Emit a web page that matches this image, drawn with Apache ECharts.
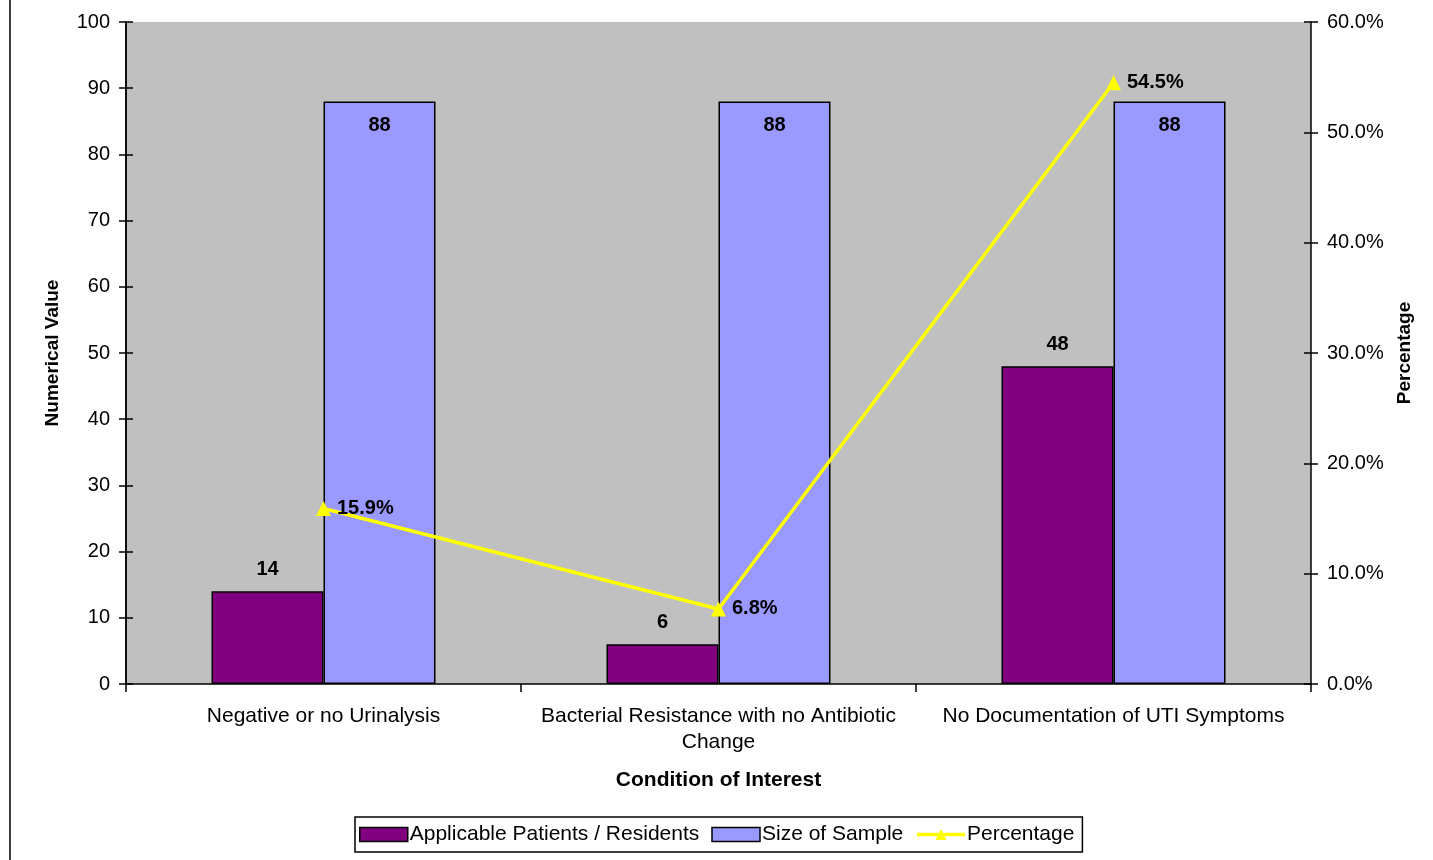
<!DOCTYPE html>
<html>
<head>
<meta charset="utf-8">
<script src="https://cdn.jsdelivr.net/npm/echarts@6/dist/echarts.min.js"></script>
<style>
  html, body { margin: 0; padding: 0; background: #fff; }
  #chart { width: 1433px; height: 860px; }
</style>
</head>
<body>
<div id="chart"></div>
<script>
// Categories and values
const categories = [
  'Negative or no Urinalysis',
  'Bacterial Resistance with no Antibiotic\nChange',
  'No Documentation of UTI Symptoms'
];
const applicable = [14, 6, 48];
const sampleSize = [88, 88, 88];
const percentage = [15.9, 6.8, 54.5];

const FONT = "'Liberation Sans', Arial, Helvetica, sans-serif";

const chart = echarts.init(document.getElementById('chart'));

const baseY = {
  type: 'value', min: 0, max: 100, interval: 10,
  splitLine: { show: false },
  axisLine: { show: true, lineStyle: { color: '#000', width: 1.5 } }
};

chart.setOption({
  animation: false,
  backgroundColor: '#fff',
  textStyle: { fontFamily: FONT },
  grid: {
    left: 126, right: 122, top: 22, bottom: 176,
    show: true, backgroundColor: '#C0C0C0', borderWidth: 0
  },
  legend: {
    left: 355, top: 817,
    padding: [7, 8, 7, 4],
    borderColor: '#000', borderWidth: 1.5,
    itemWidth: 48, itemHeight: 14, itemGap: 12,
    textStyle: { fontFamily: FONT, fontSize: 21, color: '#000', padding: [0, 0, 0, -3] },
    data: [
      { name: 'Applicable Patients / Residents', icon: 'rect', itemStyle: { borderColor: '#000', borderWidth: 1.5 } },
      { name: 'Size of Sample', icon: 'rect', itemStyle: { borderColor: '#000', borderWidth: 1.5 } },
      { name: 'Percentage', lineStyle: { width: 3.5, color: '#FFFF00' } }
    ]
  },
  xAxis: {
    type: 'category',
    data: categories,
    name: 'Condition of Interest',
    nameLocation: 'middle',
    nameGap: 86,
    nameTextStyle: { fontFamily: FONT, fontSize: 21, fontWeight: 'bold', color: '#000' },
    axisLine: { lineStyle: { color: '#000', width: 1.5 } },
    axisTick: { show: true, interval: 0, length: 8, lineStyle: { color: '#000', width: 1.5 } },
    axisLabel: { interval: 0, fontFamily: FONT, fontSize: 21, color: '#000', margin: 19, lineHeight: 26 }
  },
  yAxis: [
    Object.assign({}, baseY, {
      name: 'Numerical Value',
      nameLocation: 'middle',
      nameGap: 64,
      nameRotate: 90,
      nameTextStyle: { fontFamily: FONT, fontSize: 19, fontWeight: 'bold', color: '#000' },
      axisTick: { show: true, length: 7, lineStyle: { color: '#000', width: 1.5 } },
      axisLabel: { fontFamily: FONT, fontSize: 20, color: '#000', margin: 16 }
    }),
    // inner half of the crossing ticks on the left axis
    Object.assign({}, baseY, {
      position: 'left',
      axisTick: { show: true, inside: true, length: 7, lineStyle: { color: '#000', width: 1.5 } },
      axisLabel: { show: false }
    }),
    {
      type: 'value', min: 0, max: 60, interval: 10,
      position: 'right',
      splitLine: { show: false },
      name: 'Percentage',
      nameLocation: 'middle',
      nameGap: 84,
      nameRotate: 90,
      nameTextStyle: { fontFamily: FONT, fontSize: 19, fontWeight: 'bold', color: '#000' },
      axisLine: { show: true, lineStyle: { color: '#000', width: 1.5 } },
      axisTick: { show: true, length: 7, lineStyle: { color: '#000', width: 1.5 } },
      axisLabel: {
        fontFamily: FONT, fontSize: 20, color: '#000', margin: 16,
        formatter: v => v.toFixed(1) + '%'
      }
    },
    // inner half of the crossing ticks on the right axis
    {
      type: 'value', min: 0, max: 60, interval: 10,
      position: 'right',
      splitLine: { show: false },
      axisLine: { show: false },
      axisTick: { show: true, inside: true, length: 7, lineStyle: { color: '#000', width: 1.5 } },
      axisLabel: { show: false }
    }
  ],
  series: [
    {
      name: 'Applicable Patients / Residents',
      type: 'bar',
      yAxisIndex: 0,
      data: applicable,
      barWidth: 112,
      barGap: '0%',
      itemStyle: { color: '#800080', borderColor: '#000', borderWidth: 1.5 },
      label: {
        show: true, position: 'top', distance: 12,
        fontFamily: FONT, fontSize: 20, fontWeight: 'bold', color: '#000'
      }
    },
    {
      name: 'Size of Sample',
      type: 'bar',
      yAxisIndex: 0,
      data: sampleSize,
      barWidth: 112,
      barGap: '0%',
      itemStyle: { color: '#9999FF', borderColor: '#000', borderWidth: 1.5 },
      label: {
        show: true, position: 'insideTop', distance: 14,
        fontFamily: FONT, fontSize: 20, fontWeight: 'bold', color: '#000'
      }
    },
    {
      name: 'Percentage',
      type: 'line',
      yAxisIndex: 2,
      data: percentage,
      symbol: 'triangle',
      symbolSize: 15,
      z: 5,
      lineStyle: { color: '#FFFF00', width: 3.5 },
      itemStyle: { color: '#FFFF00' },
      label: {
        show: true, position: 'right', distance: 6,
        formatter: p => p.value.toFixed(1) + '%',
        fontFamily: FONT, fontSize: 20, fontWeight: 'bold', color: '#000'
      }
    }
  ],
  graphic: [
    {
      type: 'line',
      shape: { x1: 10, y1: 0, x2: 10, y2: 860 },
      style: { stroke: '#000', lineWidth: 1.5 }
    }
  ]
});
</script>
</body>
</html>
